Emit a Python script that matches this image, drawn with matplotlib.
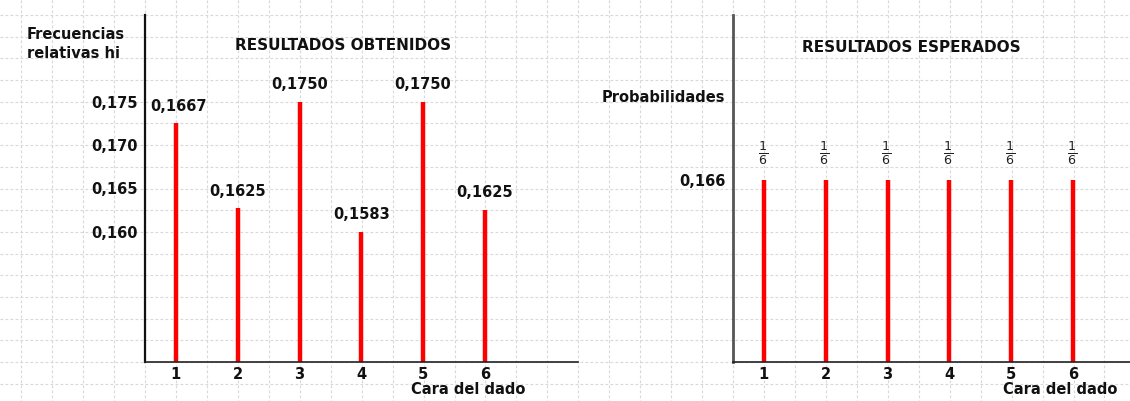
import matplotlib
matplotlib.use('Agg')
import matplotlib.pyplot as plt

# ---------------- data ----------------
caras = [1, 2, 3, 4, 5, 6]
frec_alturas = [0.1725, 0.1627, 0.1750, 0.1600, 0.1750, 0.1625]
frec_etiquetas = ['0,1667', '0,1625', '0,1750', '0,1583', '0,1750', '0,1625']
prob_valores = [0.166, 0.166, 0.166, 0.166, 0.166, 0.166]
prob_etiquetas = [r'$\frac{1}{6}$'] * 6
yticks_izq = [0.160, 0.165, 0.170, 0.175]
yticklabels_izq = ['0,160', '0,165', '0,170', '0,175']
yticks_der = [0.166]
yticklabels_der = ['0,166']
xticklabels = ['1', '2', '3', '4', '5', '6']

# ---------------- figure ----------------
W, H = 1130, 401
FONT = 'DejaVu Sans'
FS = 10.5
plt.rcParams['mathtext.fontset'] = 'dejavusans'
fig = plt.figure(figsize=(W / 100, H / 100), dpi=100)
fig.patch.set_facecolor('white')

# graph-paper background
bg = fig.add_axes([0, 0, 1, 1], zorder=0)
bg.set_xlim(0, W)
bg.set_ylim(H, 0)
bg.axis('off')
gx = [145 + 30.95 * k for k in range(-5, 33)]
gy = [15 + 21.69 * k for k in range(-1, 19)]
bg.vlines(gx, 0, H, colors='#d8d8d8', lw=0.8, linestyles=(0, (2.5, 2)))
bg.hlines(gy, 0, W, colors='#d8d8d8', lw=0.8, linestyles=(0, (2.5, 2)))


def px_rect(x0, y0, x1, y1):
    return [x0 / W, 1 - y1 / H, (x1 - x0) / W, (y1 - y0) / H]


def ftext(x, y, s, **kw):
    kw.setdefault('fontsize', FS)
    kw.setdefault('fontweight', 'bold')
    kw.setdefault('family', FONT)
    kw.setdefault('va', 'center')
    kw.setdefault('color', '#111111')
    fig.text(x / W, 1 - y / H, s, **kw)


def style_axes(ax, spine_color):
    ax.set_facecolor('none')
    for s in ('top', 'right'):
        ax.spines[s].set_visible(False)
    ax.spines['left'].set_color(spine_color)
    ax.spines['left'].set_linewidth(1.6)
    ax.spines['bottom'].set_color('#222222')
    ax.spines['bottom'].set_linewidth(1.2)
    ax.tick_params(length=0)
    ax.tick_params(axis='x', pad=3.6)
    ax.tick_params(axis='y', pad=5.5)
    ax.set_ylim(0.145, 0.185)
    for lab in ax.get_xticklabels() + ax.get_yticklabels():
        lab.set_fontweight('bold')
        lab.set_fontsize(FS)
        lab.set_family(FONT)
        lab.set_color('#111111')


# left chart
axL = fig.add_axes(px_rect(145, 15, 577.6, 362), zorder=2)
axL.set_xlim(0.5, 7.5)
axL.vlines(caras, 0.145, frec_alturas, colors='#ff0000', lw=3.2)
axL.set_xticks(caras)
axL.set_xticklabels(xticklabels)
axL.set_yticks(yticks_izq)
axL.set_yticklabels(yticklabels_izq)
style_axes(axL, '#111111')
for c, h, t in zip(caras, frec_alturas, frec_etiquetas):
    axL.annotate(t, (c, h), xytext=(2 if c == 1 else 0, 12.5),
                 textcoords='offset points',
                 ha='center', va='center', fontsize=FS, fontweight='bold',
                 family=FONT, color='#111111')

# right chart
axR = fig.add_axes(px_rect(733, 15, 1130, 362), zorder=2)
axR.set_xlim(0.5, 0.5 + 397 / 61.8)
axR.vlines(caras, 0.145, prob_valores, colors='#ff0000', lw=3.2)
axR.set_xticks(caras)
axR.set_xticklabels(xticklabels)
axR.set_yticks(yticks_der)
axR.set_yticklabels(yticklabels_der)
style_axes(axR, '#555555')
axR.spines['left'].set_linewidth(2.0)
for c, h, t in zip(caras, prob_valores, prob_etiquetas):
    axR.annotate(t, (c, h), xytext=(-1, 19), textcoords='offset points',
                 ha='center', va='center', fontsize=13, color='#222222')

# texts
ftext(343, 45, 'RESULTADOS OBTENIDOS', ha='center', fontsize=11)
ftext(911, 47, 'RESULTADOS ESPERADOS', ha='center', fontsize=11)
ftext(27, 44, 'Frecuencias\nrelativas hi', ha='left', linespacing=1.4)
ftext(725, 97, 'Probabilidades', ha='right')
ftext(468, 389, 'Cara del dado', ha='center')
ftext(1060, 390, 'Cara del dado', ha='center')

fig.savefig('out.png', dpi=100)
